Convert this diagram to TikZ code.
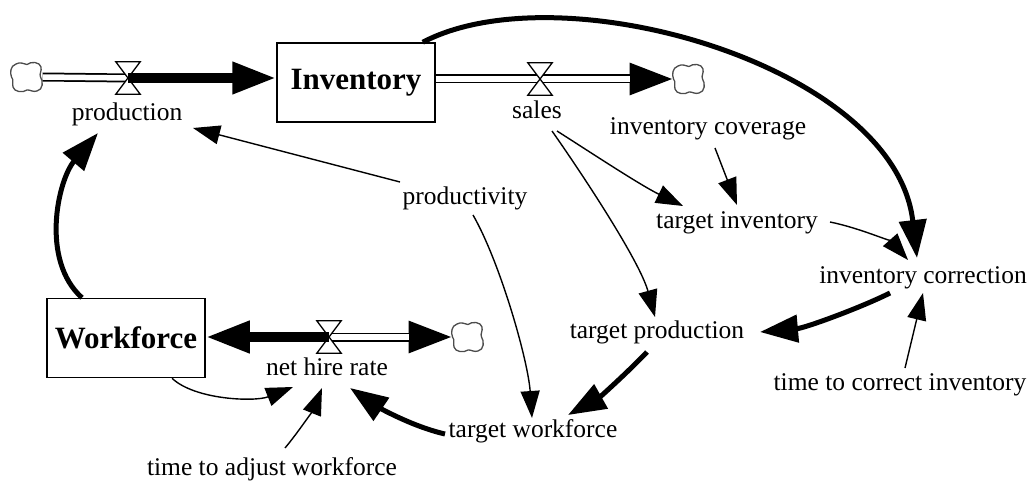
\documentclass[tikz,border=0pt]{standalone}
\usepackage{fontspec}
\setmainfont{Liberation Serif}
\usetikzlibrary{arrows.meta}
\tikzset{
  lbl/.style={font=\fontsize{25.5}{30}\selectfont, text height=17pt, text depth=6pt, inner sep=0pt},
  stock/.style={draw, line width=1.5pt, minimum width=158pt, minimum height=79pt, inner sep=0pt,
    font=\fontsize{31}{36}\selectfont\bfseries},
  valve/.style={minimum width=24pt, minimum height=32pt, inner sep=0pt},
  valvebody/.style={line width=1.3pt, fill=white},
  sink/.style={minimum width=31pt, minimum height=30pt, inner sep=0pt, outer sep=0pt},
  sinkline/.style={draw=black!70, line width=1.3pt, fill=white},
  link/.style={line width=1.4pt, -{Triangle[length=27pt,width=19pt]}},
  strong/.style={line width=5pt, -{Triangle[length=38pt,width=27pt]}},
  pipeout/.style={line width=9pt, -{Triangle[length=44pt,width=30pt]}},
  pipeplain/.style={line width=9pt},
  pipein/.style={white, line width=5.5pt},
  flowbar/.style={line width=10pt, -{Triangle[length=44pt,width=30pt]}},
}
\begin{document}
\begin{tikzpicture}[x=1pt,y=-1pt]
\useasboundingbox (0,0) rectangle (1033,481);

% stocks
\node[stock] (inv) at (356,82.5) {Inventory};
\node[stock] (wf) at (126,338) {Workforce};

% sources and sinks
\node[sink] (cL) at (27,77) {};
\node[sink] (cS) at (689,79) {};
\node[sink] (cN) at (468,337) {};

% valves
\node[valve] (vP) at (128,78) {};
\node[valve] (vS) at (540,79) {};
\node[valve] (vN) at (329,337) {};

% variable names
\node[lbl] (prod) at (127,115) {production};
\node[lbl] (sales) at (537,113) {sales};
\node[lbl] (nhr) at (327,370) {net hire rate};
\node[lbl] (prodvty) at (465,199) {productivity};
\node[lbl] (invcov) at (708,129) {inventory coverage};
\node[lbl] (tinv) at (737,223) {target inventory};
\node[lbl] (invcorr) at (923,278) {inventory correction};
\node[lbl] (tprod) at (657,333) {target production};
\node[lbl] (twf) at (533,432) {target workforce};
\node[lbl] (ttci) at (900,385) {time to correct inventory};
\node[lbl] (ttaw) at (272,470) {time to adjust workforce};

% pipes
\draw[pipeplain] (cL.east) -- (vP.center);
\draw[pipein] (cL.east) -- (vP.center);
\draw[pipeout] (inv.east |- vS.center) -- (cS.west);
\draw[pipein, shorten >=44pt] (inv.east |- vS.center) -- (cS.west);
\draw[pipeout] (vN.center) -- (cN.west);
\draw[pipein, shorten >=44pt] (vN.center) -- (cN.west);

% cloud outlines
\foreach \c in {cL,cS,cN}
  \draw[sinkline, shift={(\c.center)}]
    (-15.5,0) .. controls (-17,-4) and (-17,-11) .. (-11,-13)
    .. controls (-7,-15.5) and (-3,-13) .. (0,-12.5)
    .. controls (4,-16) and (13,-15) .. (14,-10)
    .. controls (15,-6) and (12,-3) .. (13.5,0)
    .. controls (16.5,4) and (16,13) .. (10,14)
    .. controls (6,15.5) and (3,12.5) .. (0,13)
    .. controls (-4,16) and (-13,15) .. (-14,10)
    .. controls (-15,6) and (-13,3) .. (-15.5,0) -- cycle;

% valve bodies
\foreach \v in {vP,vS,vN}
  \draw[valvebody] (\v.north west) -- (\v.north east) -- (\v.south west) -- (\v.south east) -- cycle;

% active flows
\draw[flowbar] (vP.center) -- (inv.west |- vP.center);
\draw[flowbar] (vN.center) -- (wf.east |- vN.center);

% causal links
\draw[link] ([shift={(-65,-17)}]prodvty.center) -- ([shift={(66,13)}]prod.center);
\draw[strong] ([xshift=-44]wf.north) .. controls (40,260) and (58,180) .. ([shift={(-29,18)}]prod.center);
\draw[strong] ([xshift=-13]inv.north east) .. controls (560,-30) and (895,65) .. ([shift={(-6,-20)}]invcorr.center);
\draw[link] ([shift={(20,18)}]sales.center) .. controls (590,152) and (640,185) .. ([shift={(-54,-17)}]tinv.center);
\draw[link] ([shift={(15,18)}]sales.center) .. controls (585,178) and (640,262) .. ([shift={(-2,-16)}]tprod.center);
\draw[link] ([shift={(7,19)}]invcov.center) -- ([shift={(0,-18)}]tinv.center);
\draw[link] ([shift={(93,-1)}]tinv.center) .. controls (860,228) and (893,243) .. ([shift={(-15,-18)}]invcorr.center);
\draw[strong] ([shift={(-33,15)}]invcorr.center) .. controls (860,308) and (805,328) .. ([shift={(103,-1)}]tprod.center);
\draw[link] ([shift={(5,-17)}]ttci.center) -- ([shift={(0,15)}]invcorr.center);
\draw[strong] ([shift={(-10,19)}]tprod.center) .. controls (628,372) and (600,397) .. ([shift={(35,-17)}]twf.center);
\draw[link] ([shift={(8,16)}]prodvty.center) .. controls (500,262) and (528,360) .. ([shift={(-1,-14)}]twf.center);
\draw[link] ([xshift=46]wf.south) .. controls (195,400) and (255,402) .. ([shift={(-34,17)}]nhr.center);
\draw[link] ([shift={(13,-22)}]ttaw.center) .. controls (300,430) and (314,408) .. ([shift={(-5,18)}]nhr.center);
\draw[strong] ([shift={(-88,2)}]twf.center) .. controls (410,426) and (375,405) .. ([shift={(23,18)}]nhr.center);
\end{tikzpicture}
\end{document}
